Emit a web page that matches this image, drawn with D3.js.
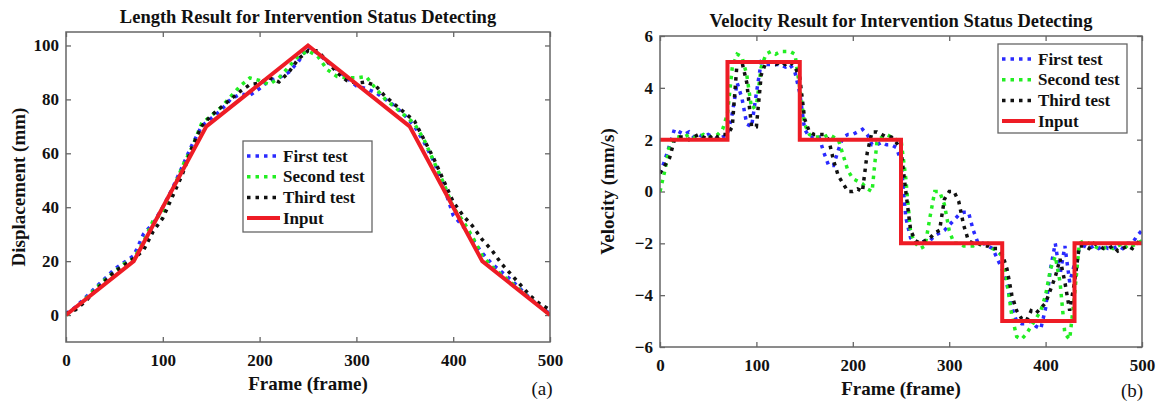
<!DOCTYPE html>
<html><head><meta charset="utf-8">
<script src="https://cdn.jsdelivr.net/npm/d3@7"></script>
<style>
body{margin:0;background:#fff}
text{font-family:"Liberation Serif","Times New Roman",serif;fill:#111}
</style>
</head><body>
<svg id="c" width="1163" height="401"></svg>
<script>
// ---------------- DATA ----------------
const seriesNames = ["First test", "Second test", "Third test", "Input"];
const xTicks = [0, 100, 200, 300, 400, 500];
const lenYTicks = [0, 20, 40, 60, 80, 100];
const velYTicks = [-6, -4, -2, 0, 2, 4, 6];

// Length (displacement) chart
const lenFrames = [0,10,20,30,40,50,60,70,80,90,100,110,120,130,140,150,160,170,180,190,200,210,220,230,240,250,260,270,280,290,300,310,320,330,340,350,360,370,380,390,400,410,420,430,440,450,460,470,480,490,500];
const lenFirst  = [0.5,3,6.5,10,13.5,17,19.5,22,30,34,40,47,55,63,70,73,76,80,82,81.5,84,87,88,90,94,99.5,97,94,91,88,85,84,82.5,80,77.5,74,70,64,57,48,37,33,28,23,19,16,13,9.5,6,3,0.5];
const lenSecond = [0,2.5,6,9.5,13,16,19,21,27,35,38,46,55,62,71,74,77,81,85,88,87,85.5,88,92,96,98,96,91,88.5,88,88,88.5,84,80,77,74,71,65,57,49,40,35,29,22,18,15,12,9,6,3,0];
const lenThird  = [0.5,2,5,9,12.5,16,18.5,21,24,31,36,44,52,62,70,74,77,80,83,85.5,86,88,86.5,90,95,98,98,94,90,87,86,86.5,85,81,78,75,72,65,58,50,42,37,33,28,24,19,15,11,7,4,2];
const lenInputFrames = [0, 70, 145, 250, 355, 430, 500];
const lenInput       = [0, 20, 70, 100, 70, 20, 0];

// Velocity chart
const velFrames = [0,5,10,15,20,25,30,35,40,45,50,55,60,65,70,75,80,85,90,95,100,105,110,115,120,125,130,135,140,145,150,155,160,165,170,175,180,185,190,195,200,205,210,215,220,225,230,235,240,245,250,255,260,265,270,275,280,285,290,295,300,305,310,315,320,325,330,335,340,345,350,355,360,365,370,375,380,385,390,395,400,405,410,415,420,425,430,435,440,445,450,455,460,465,470,475,480,485,490,495,500];
const velFirst = [0.7,1.2,1.8,2.4,2.3,2.2,2.3,2.1,2.2,2.1,2.2,2.1,2.0,2.1,2.2,3.0,4.2,3.6,2.6,2.5,3.8,5.0,4.9,4.9,4.9,4.9,4.8,4.9,4.6,3.8,2.4,2.1,2.1,2.1,1.5,1.0,1.0,1.6,2.1,2.2,2.2,2.3,2.4,2.2,1.8,1.8,1.9,1.8,1.8,1.7,1.2,-1.0,-1.8,-2.0,-2.0,-1.9,-1.9,-1.7,-1.6,-1.5,-1.3,-1.1,-0.9,-0.8,-0.8,-1.5,-2.0,-2.0,-2.1,-2.2,-2.6,-3.0,-3.6,-4.5,-5.0,-5.1,-5.1,-5.0,-5.2,-5.3,-4.5,-3.0,-2.0,-3.2,-2.1,-3.5,-2.8,-2.2,-2.1,-2.2,-2.1,-2.2,-2.1,-2.2,-2.2,-2.1,-2.2,-2.0,-2.0,-1.7,-1.5];
const velSecond = [0.0,0.8,1.8,2.1,2.1,2.1,2.2,2.1,2.1,2.2,2.1,2.1,2.2,2.4,3.0,4.8,5.3,5.2,4.5,3.2,3.3,4.8,5.3,5.4,5.3,5.4,5.4,5.4,5.3,4.0,2.6,2.2,2.1,2.1,2.1,2.2,2.1,2.0,1.4,0.8,0.5,0.4,0.3,0.1,0.0,1.9,2.1,2.2,2.1,2.0,2.0,0.5,-1.6,-2.0,-2.2,-2.1,-1.0,0.0,0.0,-0.5,-1.5,-2.0,-2.0,-2.1,-2.1,-2.1,-2.0,-2.1,-2.0,-2.2,-2.3,-2.5,-3.5,-4.8,-5.6,-5.7,-5.5,-5.2,-4.9,-4.6,-4.0,-3.0,-2.5,-3.5,-5.5,-5.7,-4.0,-2.0,-1.9,-2.0,-2.1,-2.2,-2.2,-2.1,-2.2,-2.1,-2.0,-2.2,-2.1,-2.0,-1.9];
const velThird = [0.7,1.0,1.3,2.0,2.1,2.1,2.0,2.1,2.2,2.1,2.0,2.2,2.1,2.2,2.2,2.5,5.0,5.0,4.2,2.5,2.5,4.5,5.0,5.0,4.9,5.0,4.9,5.0,4.8,4.4,2.8,2.3,2.2,2.2,2.2,2.0,1.2,0.6,0.3,0.0,0.0,0.1,0.0,1.5,2.3,2.3,2.2,2.1,2.1,1.9,1.6,0.0,-1.5,-1.9,-2.0,-1.9,-1.8,-1.6,-1.5,-0.3,0.0,0.0,-0.4,-1.3,-1.9,-2.0,-2.0,-2.1,-2.1,-2.2,-2.2,-2.4,-3.0,-4.0,-4.6,-4.9,-5.0,-4.6,-4.7,-4.5,-4.3,-3.8,-3.3,-2.6,-3.5,-4.6,-3.5,-2.1,-2.1,-2.2,-2.0,-2.1,-2.2,-2.2,-2.1,-2.3,-2.2,-2.1,-2.2,-2.0,-1.8];
const velInputFrames = [0, 70, 145, 250, 355, 430, 500];
const velInput       = [2, 5, 2, -2, -5, -2, -2];

// ---------------- DRAW ----------------
const svg = d3.select("#c");
const colors = ["#2a2aff", "#22ee22", "#111111", "#ee1c25"];
const FONT = '"Liberation Serif","Times New Roman",serif';

function drawChart(cfg) {
  const g = svg.append("g");
  const x = d3.scaleLinear().domain([0, 500]).range([cfg.left, cfg.right]);
  const y = d3.scaleLinear().domain(cfg.yDomain).range([cfg.bottom, cfg.top]);

  const axisColor = "#666";
  const styleAxis = sel => {
    sel.select(".domain").remove();
    sel.selectAll("line").attr("stroke", axisColor).attr("stroke-width", 1.3);
    sel.selectAll("text").attr("font-size", 17).attr("fill", "#111")
       .attr("font-family", FONT).style("font-weight", "bold");
  };
  g.append("g").attr("transform", `translate(0,${cfg.bottom})`)
    .call(d3.axisBottom(x).tickValues(xTicks).tickSize(-5).tickSizeOuter(0).tickPadding(cfg.xPad))
    .call(styleAxis);
  g.append("g").attr("transform", `translate(0,${cfg.top})`)
    .call(d3.axisTop(x).tickValues(xTicks).tickSize(-5).tickSizeOuter(0).tickFormat(""))
    .call(styleAxis);
  g.append("g").attr("transform", `translate(${cfg.left},0)`)
    .call(d3.axisLeft(y).tickValues(cfg.yTicks).tickSize(-5).tickSizeOuter(0).tickPadding(7))
    .call(styleAxis);
  g.append("g").attr("transform", `translate(${cfg.right},0)`)
    .call(d3.axisRight(y).tickValues(cfg.yTicks).tickSize(-5).tickSizeOuter(0).tickFormat(""))
    .call(styleAxis);

  const clipId = "clip" + cfg.id;
  g.append("clipPath").attr("id", clipId).append("rect")
    .attr("x", cfg.left).attr("y", cfg.top).attr("width", cfg.right - cfg.left).attr("height", cfg.bottom - cfg.top);

  const plot = g.append("g").attr("clip-path", `url(#${clipId})`);
  const line = d3.line().x(d => x(d[0])).y(d => y(d[1]));
  cfg.tests.forEach((vals, i) => {
    plot.append("path")
      .datum(cfg.frames.map((f, k) => [f, vals[k]]))
      .attr("d", line).attr("fill", "none")
      .attr("stroke", colors[i]).attr("stroke-width", 3.5)
      .attr("stroke-dasharray", "3.5 5");
  });
  const inLine = d3.line().x(d => x(d[0])).y(d => y(d[1])).curve(cfg.inputCurve);
  plot.append("path")
    .datum(cfg.inputFrames.map((f, k) => [f, cfg.input[k]]))
    .attr("d", inLine).attr("fill", "none")
    .attr("stroke", colors[3]).attr("stroke-width", 4);

  // box
  g.append("rect").attr("x", cfg.left).attr("y", cfg.top)
    .attr("width", cfg.right - cfg.left).attr("height", cfg.bottom - cfg.top)
    .attr("fill", "none").attr("stroke", axisColor).attr("stroke-width", 1.5);

  // title & labels
  const cx = (cfg.left + cfg.right) / 2;
  g.append("text").attr("x", cx).attr("y", cfg.titleY).attr("text-anchor", "middle")
    .attr("dominant-baseline", "central").attr("font-size", 18.5).style("font-weight", "bold").text(cfg.title);
  g.append("text").attr("x", cx).attr("y", cfg.xlabelY).attr("text-anchor", "middle")
    .attr("dominant-baseline", "central").attr("font-size", 19).style("font-weight", "bold").text("Frame (frame)");
  g.append("text").attr("transform", `translate(${cfg.ylabelX},${(cfg.top + cfg.bottom) / 2}) rotate(-90)`)
    .attr("text-anchor", "middle").attr("dominant-baseline", "central").attr("font-size", 19)
    .style("font-weight", "bold").text(cfg.ylabel);
  g.append("text").attr("x", cfg.panelX).attr("y", cfg.panelY).attr("text-anchor", "middle")
    .attr("dominant-baseline", "central").attr("font-size", 19).style("font-weight", "normal").text(cfg.panel);

  // legend
  const L = cfg.legend;
  const lg = g.append("g").attr("transform", `translate(${L.x},${L.y})`);
  lg.append("rect").attr("width", L.w).attr("height", L.h).attr("fill", "#fff")
    .attr("stroke", axisColor).attr("stroke-width", 1.3);
  seriesNames.forEach((name, i) => {
    const yy = 15 + i * 20.7;
    const ln = lg.append("line").attr("x1", 4).attr("x2", 37).attr("y1", yy).attr("y2", yy)
      .attr("stroke", colors[i]).attr("stroke-width", i === 3 ? 4 : 3.5);
    if (i < 3) ln.attr("stroke-dasharray", "3.5 5");
    lg.append("text").attr("x", 40).attr("y", yy).attr("dominant-baseline", "central")
      .attr("font-size", 17).style("font-weight", "bold").text(name);
  });
}

drawChart({
  id: "a", left: 66, right: 550, top: 32, bottom: 342, yDomain: [-10, 105], yTicks: lenYTicks,
  xPad: 12, frames: lenFrames, tests: [lenFirst, lenSecond, lenThird],
  inputFrames: lenInputFrames, input: lenInput, inputCurve: d3.curveLinear,
  title: "Length Result for Intervention Status Detecting", titleY: 17,
  ylabel: "Displacement (mm)", ylabelX: 18, xlabelY: 383,
  panel: "(a)", panelX: 542, panelY: 388,
  legend: { x: 243, y: 141, w: 129, h: 91 }
});
drawChart({
  id: "b", left: 660, right: 1142, top: 36, bottom: 347, yDomain: [-6, 6], yTicks: velYTicks,
  xPad: 12, frames: velFrames, tests: [velFirst, velSecond, velThird],
  inputFrames: velInputFrames, input: velInput, inputCurve: d3.curveStepAfter,
  title: "Velocity Result for Intervention Status Detecting", titleY: 21,
  ylabel: "Velocity (mm/s)", ylabelX: 607, xlabelY: 388,
  panel: "(b)", panelX: 1132, panelY: 390,
  legend: { x: 998, y: 44, w: 129, h: 89 }
});
</script>
</body></html>
